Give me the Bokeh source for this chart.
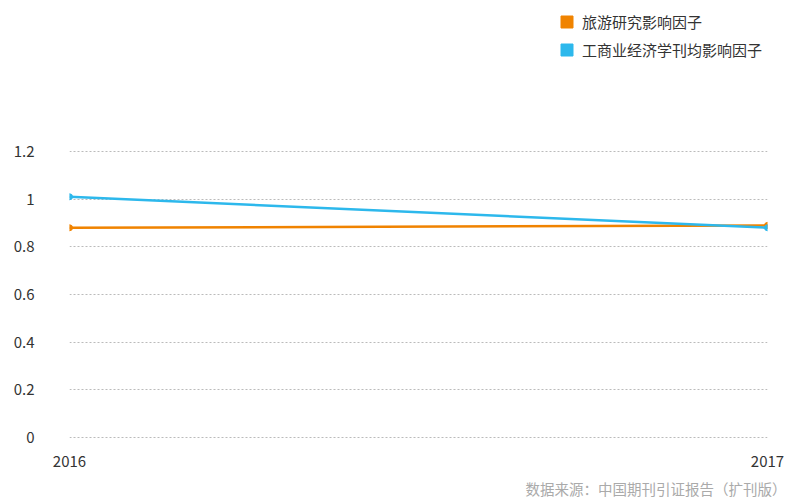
from bokeh.plotting import figure
from bokeh.models import Legend, LegendItem, Title, Range1d, FixedTicker
from bokeh.embed import file_html
from bokeh.resources import INLINE

years = [2016, 2017]
tourism = [0.88, 0.89]
business = [1.01, 0.88]
series_names = ["旅游研究影响因子", "工商业经济学刊均影响因子"]
colors = ["#F08300", "#2DB8EC"]
y_ticks = [0, 0.2, 0.4, 0.6, 0.8, 1, 1.2]
source_text = "数据来源：中国期刊引证报告（扩刊版）"

FONT = "Noto Sans CJK SC"

# frame spans from top of canvas (room for legend) to just below the 0 gridline
px_per_unit = 286 / 1.2
y_end = 1.2 + 151 / px_per_unit
y_start = y_end - 438 / px_per_unit

p = figure(width=799, height=504, output_backend="svg", toolbar_location=None,
           x_range=Range1d(2016, 2017), y_range=Range1d(y_start, y_end),
           min_border_left=69, min_border_right=32, min_border_top=0, min_border_bottom=66)
p.outline_line_color = None
p.background_fill_color = "white"

leg_items = []
for vals, name, c in zip([tourism, business], series_names, colors):
    p.line(years, vals, line_color=c, line_width=2.5)
    p.scatter(years, vals, size=6, fill_color=c, line_color=c)
    sq = p.quad(left=[2016], right=[2016.001], top=[-5.0], bottom=[-5.1], fill_color=c, line_color=c)
    leg_items.append(LegendItem(label=name, renderers=[sq]))

legend = Legend(items=leg_items, location=(490, 378), orientation="vertical",
                label_text_font=FONT, label_text_font_size="15px", label_text_color="#333333",
                glyph_width=15, glyph_height=15, label_height=15, spacing=7, padding=0, margin=0,
                border_line_color=None, background_fill_alpha=0, label_standoff=8)
p.add_layout(legend, "center")

p.xaxis.ticker = FixedTicker(ticks=years)
p.yaxis.ticker = FixedTicker(ticks=y_ticks)
p.yaxis.major_label_overrides = {0: "0", 0.2: "0.2", 0.4: "0.4", 0.6: "0.6", 0.8: "0.8", 1: "1", 1.2: "1.2"}
for ax in (p.xaxis, p.yaxis):
    ax.axis_line_color = None
    ax.major_tick_line_color = None
    ax.minor_tick_line_color = None
    ax.major_tick_out = 0
    ax.major_tick_in = 0
    ax.major_label_text_font = FONT
    ax.major_label_text_font_size = "15px"
    ax.major_label_text_color = "#333333"
p.xaxis.major_label_standoff = 17
p.yaxis.major_label_standoff = 35

p.xgrid.grid_line_color = None
p.ygrid.grid_line_color = "#bbbbbb"
p.ygrid.grid_line_dash = "2 2"
p.ygrid.grid_line_width = 1

src = Title(text=source_text, align="right", text_font=FONT, text_font_size="14.5px",
            text_color="#aaaaaa", text_font_style="normal", offset=-19, standoff=12)
p.add_layout(src, "below")

open("out.html", "w").write(file_html(p, INLINE))
